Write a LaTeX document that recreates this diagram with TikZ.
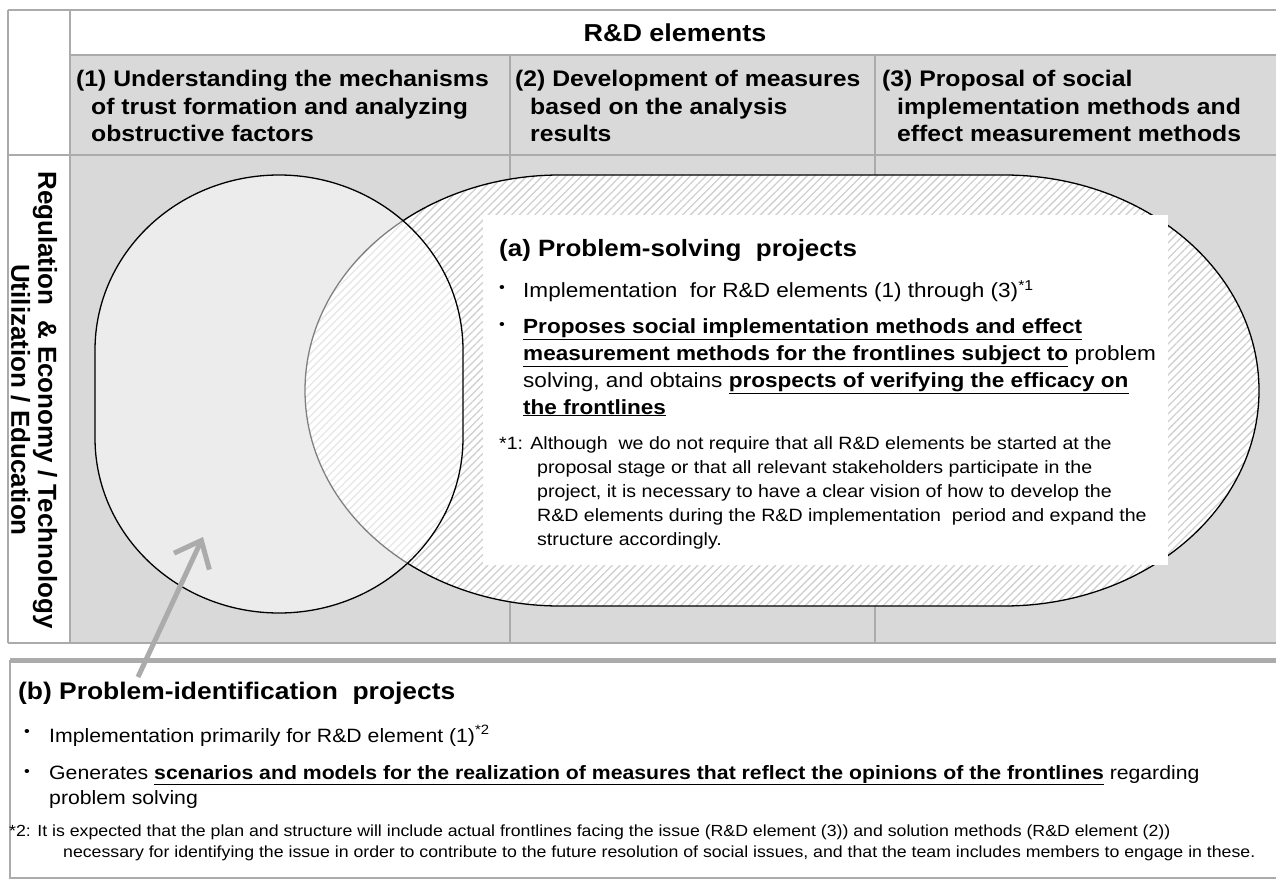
\documentclass[tikz,border=0pt]{standalone}
\usepackage{fontspec}
\setmainfont{Liberation Sans}[FakeStretch=1.1]
\newfontfamily\sidefont{Liberation Sans}
\usetikzlibrary{arrows.meta,patterns.meta}
\definecolor{cellgray}{HTML}{D9D9D9}
\definecolor{rulegray}{HTML}{ABABAB}
\definecolor{hatchgray}{HTML}{D0D0D0}
\definecolor{arrowgray}{HTML}{ABABAB}
\newcommand{\ulb}[1]{\underline{\textbf{#1}}}
\newcommand{\supmark}[1]{\textsuperscript{#1}}

\begin{document}
\begin{tikzpicture}[x=1pt,y=-1pt,
  tline/.style={draw=rulegray, line width=2pt},
  colhead/.style={anchor=north west, inner sep=0pt, align=left, font=\fontsize{22.5}{27.5}\selectfont\bfseries},
  projtitle/.style={anchor=west, inner sep=0pt, font=\fontsize{23.6}{28}\selectfont\bfseries},
  bulletmark/.style={anchor=west, inner sep=0pt, font=\fontsize{15}{18}\selectfont},
  itemtext/.style={anchor=north west, inner sep=0pt, align=left, font=\fontsize{20.5}{27}\selectfont},
  notetext/.style={anchor=north west, inner sep=0pt, align=left, font=\fontsize{17.8}{24}\selectfont}]
\useasboundingbox (0,0) rectangle (1276,882);
\fill[white] (0,0) rectangle (1276,882);

\fill[cellgray] (70,55) rectangle (1290,643);
\draw[tline] (8,10) -- (1290,10);
\draw[tline] (70,55) -- (1290,55);
\draw[tline] (8,155) -- (1290,155);
\draw[tline] (8,643) -- (1290,643);
\draw[tline] (8,10) -- (8,643);
\draw[tline] (70,10) -- (70,643);
\draw[tline] (510,55) -- (510,643);
\draw[tline] (875,55) -- (875,643);

\node[font=\fontsize{24.5}{28}\selectfont\bfseries] (rdhead) at (675,33) {R\&D elements};
\node[colhead] (col1) at (76,70) {(1) Understanding the mechanisms\\\hspace*{15pt}of trust formation and analyzing\\\hspace*{15pt}obstructive factors};
\node[colhead] (col2) at (515,70) {(2) Development of measures\\\hspace*{15pt}based on the analysis\\\hspace*{15pt}results};
\node[colhead] (col3) at (882,70) {(3) Proposal of social\\\hspace*{15pt}implementation methods and\\\hspace*{15pt}effect measurement methods};
\node[rotate=-90, align=center, font=\sidefont\fontsize{26}{27}\selectfont\bfseries] (fields) at (34,400)
  {Regulation\ \ \& Economy / Technology\\Utilization / Education};

\path[preaction={fill=white}, pattern={Lines[angle=45,distance=5.5pt,line width=1.3pt]}, pattern color=hatchgray]
  (305,390.5) arc[start angle=180,end angle=270,x radius=255,y radius=215.5] -- (1004,175)
  arc[start angle=270,end angle=450,x radius=255,y radius=215.5] -- (560,606)
  arc[start angle=90,end angle=180,x radius=255,y radius=215.5] -- cycle;
\draw[line width=1.3pt]
  (305,390.5) arc[start angle=180,end angle=270,x radius=255,y radius=215.5] -- (1004,175)
  arc[start angle=270,end angle=450,x radius=255,y radius=215.5] -- (560,606)
  arc[start angle=90,end angle=180,x radius=255,y radius=215.5] -- cycle;
\fill[white] (483,215) rectangle (1168,565);

\fill[white, fill opacity=0.5]
  (95,350) arc[start angle=180,end angle=360,x radius=184,y radius=175] -- (463,438)
  arc[start angle=0,end angle=180,x radius=184,y radius=175] -- cycle;
\draw[line width=1.3pt]
  (95,350) arc[start angle=180,end angle=360,x radius=184,y radius=175] -- (463,438)
  arc[start angle=0,end angle=180,x radius=184,y radius=175] -- cycle;

\node[projtitle] (atitle) at (499,250) {(a) Problem-solving\ \ projects};
\node[bulletmark] (abul1) at (499,289) {\textbullet};
\node[itemtext] (aitem1) at (523,280) {Implementation\ \ for R\&D elements (1) through (3)\supmark{*1}};
\node[bulletmark] (abul2) at (499,326) {\textbullet};
\node[itemtext] (aitem2) at (523,318) {\ulb{Proposes social implementation methods and effect}\\
  \ulb{measurement methods for the frontlines subject to} problem\\
  solving, and obtains \ulb{prospects of verifying the efficacy on}\\
  \ulb{the frontlines}};
\node[notetext] (anote) at (499,436) {*1: Although\ \ we do not require that all R\&D elements be started at the\\
  \hspace*{38pt}proposal stage or that all relevant stakeholders participate in the\\
  \hspace*{38pt}project, it is necessary to have a clear vision of how to develop the\\
  \hspace*{38pt}R\&D elements during the R\&D implementation\ \ period and expand the\\
  \hspace*{38pt}structure accordingly.};

\draw[draw=rulegray, line width=5pt] (10,660) -- (1290,660);
\draw[draw=rulegray, line width=2.5pt] (1290,878) -- (10,878) -- (10,660);

\coordinate (arrtail) at (138,677);
\coordinate (arrtip) at (203,537);
\draw[draw=arrowgray, line width=5pt, -{Straight Barb[length=23pt,width=39pt]}] (arrtail) -- (arrtip);

\node[projtitle, font=\fontsize{24}{28}\selectfont\bfseries] (btitle) at (18,693) {(b) Problem-identification\ \ projects};
\node[bulletmark] (bbul1) at (24,733) {\textbullet};
\node[itemtext, font=\fontsize{19.3}{25}\selectfont] (bitem1) at (49,725) {Implementation primarily for R\&D element (1)\supmark{*2}};
\node[bulletmark] (bbul2) at (24,773) {\textbullet};
\node[itemtext, font=\fontsize{19.3}{25}\selectfont] (bitem2) at (49,765)
  {Generates \ulb{scenarios and models for the realization of measures that reflect the opinions of the frontlines} regarding\\
  problem solving};
\node[notetext, font=\fontsize{16.1}{21}\selectfont] (bnote) at (9,825)
  {*2: It is expected that the plan and structure will include actual frontlines facing the issue (R\&D element (3)) and solution methods (R\&D element (2))\\
  \hspace*{54pt}necessary for identifying the issue in order to contribute to the future resolution of social issues, and that the team includes members to engage in these.};
\end{tikzpicture}
\end{document}
